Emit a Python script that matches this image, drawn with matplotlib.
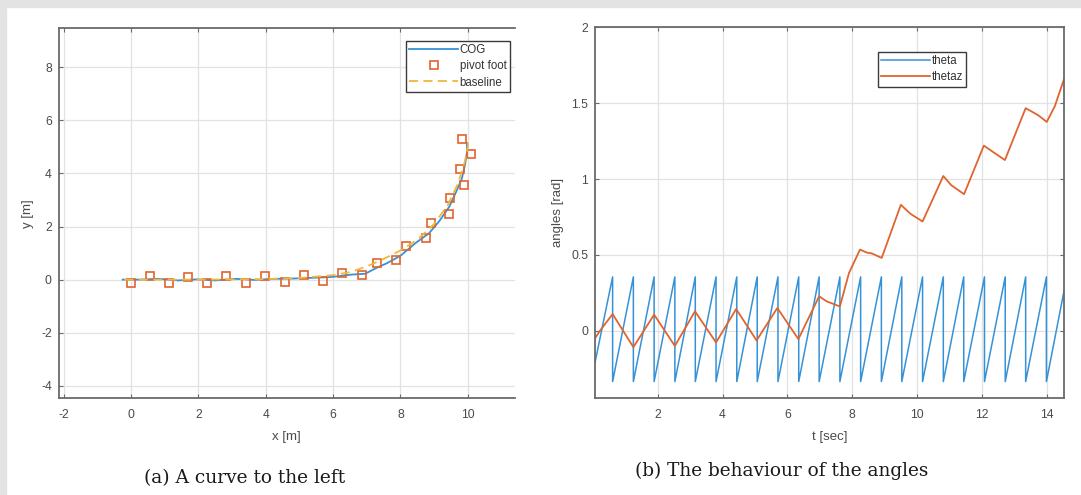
import numpy as np
import matplotlib
matplotlib.use('Agg')
from matplotlib import pyplot as plt
from matplotlib.patches import Rectangle

# (a) trajectory
pivot_x = [0.0, 0.56, 1.12, 1.70, 2.26, 2.83, 3.40, 3.99, 4.57, 5.13, 5.71, 6.27,
           6.87, 7.30, 7.88, 8.17, 8.77, 8.92, 9.43, 9.46, 9.90, 9.78, 10.08, 9.83]
pivot_y = [-0.14, 0.15, -0.14, 0.09, -0.14, 0.15, -0.14, 0.15, -0.09, 0.17, -0.04, 0.26,
           0.17, 0.62, 0.74, 1.27, 1.56, 2.12, 2.49, 3.09, 3.55, 4.15, 4.72, 5.30]
cog_x = [-0.25, 0.25, 0.8, 1.4, 1.95, 2.5, 3.1, 3.65, 4.25, 4.8, 5.4, 5.95, 6.55, 6.95,
         7.3, 7.6, 8.0, 8.45, 8.85, 9.15, 9.45, 9.65, 9.82, 9.92, 9.98, 9.97]
cog_y = [0.0, 0.0, 0.03, -0.03, 0.01, -0.03, 0.03, -0.01, 0.03, 0.04, 0.07, 0.1, 0.19, 0.22,
         0.45, 0.62, 0.9, 1.38, 1.75, 2.2, 2.75, 3.3, 3.8, 4.35, 4.85, 5.15]
base_x = [-0.2, 2.0, 4.0, 5.0, 6.0, 6.5, 7.0, 7.5, 8.0, 8.5, 9.0, 9.4, 9.7, 9.9, 10.0, 10.02]
base_y = [0.0, 0.0, 0.02, 0.06, 0.17, 0.28, 0.5, 0.78, 1.1, 1.5, 2.1, 2.8, 3.6, 4.4, 5.0, 5.3]

# (b) angles
theta_start = (0.066, -0.21)
theta_drop_t = [0.61, 1.25, 1.89, 2.53, 3.16, 3.80, 4.44, 5.07, 5.71, 6.35, 6.98,
                7.62, 8.26, 8.90, 9.53, 10.17, 10.81, 11.44, 12.08, 12.72, 13.35, 13.99]
theta_hi = 0.355
theta_lo = -0.335
theta_end = (14.54, 0.27)
thetaz_t = [0.066, 0.22, 0.61, 1.25, 1.89, 2.53, 3.15, 3.80, 4.42, 5.05, 5.69, 6.34, 6.98,
            7.21, 7.62, 7.9, 8.24, 8.45, 8.6, 8.91, 9.5, 9.8, 10.17, 10.81, 11.05, 11.45,
            12.06, 12.4, 12.71, 13.35, 13.74, 14.0, 14.25, 14.56]
thetaz_v = [-0.05, 0.0, 0.11, -0.108, 0.106, -0.10, 0.128, -0.077, 0.143, -0.064, 0.15, -0.055,
            0.227, 0.194, 0.16, 0.38, 0.535, 0.515, 0.51, 0.48, 0.83, 0.77, 0.72, 1.02, 0.96, 0.90,
            1.22, 1.17, 1.125, 1.467, 1.42, 1.376, 1.48, 1.676]

theta_t = [theta_start[0]] + list(np.repeat(theta_drop_t, 2)) + [theta_end[0]]
theta_v = [theta_start[1]] + [theta_hi, theta_lo] * len(theta_drop_t) + [theta_end[1]]

blue = '#3592d6'
orange = '#e0642f'
yellow = '#f0b83a'
tick_c = '#4a4a4a'
spine_c = '#6a6a6a'

plt.rcParams['font.family'] = ['Liberation Sans', 'DejaVu Sans']
plt.rcParams['axes.unicode_minus'] = False

fig = plt.figure(figsize=(10.81, 4.95), dpi=100, facecolor='white')
fig.patches.append(Rectangle((0, 1 - 7 / 495), 1, 7 / 495, transform=fig.transFigure,
                             color='#e3e3e3', zorder=0))
fig.patches.append(Rectangle((0, 0), 6 / 1081, 1, transform=fig.transFigure,
                             color='#e3e3e3', zorder=0))


def style(ax):
    ax.grid(True, color='#e2e2e2', linewidth=0.9)
    ax.set_axisbelow(True)
    ax.tick_params(direction='in', length=3, width=0.8, colors=spine_c,
                   labelcolor=tick_c, labelsize=8.7)
    ax.tick_params(axis='x', pad=8)
    ax.tick_params(axis='y', pad=5)
    for s in ax.spines.values():
        s.set_color(spine_c)
        s.set_linewidth(1.3)


def legend_at(ax, x, y):
    leg = ax.legend(loc='upper left', bbox_to_anchor=(x / 1081, 1 - y / 495),
                    bbox_transform=fig.transFigure, fontsize=8.3, handlelength=4.2,
                    handletextpad=0.15, borderpad=0.3, labelspacing=0.35,
                    fancybox=False, framealpha=1, borderaxespad=0)
    leg.get_frame().set_edgecolor('#3a3a3a')
    leg.get_frame().set_linewidth(1.0)
    for t in leg.get_texts():
        t.set_color('#333333')


# left
ax1 = fig.add_axes([0.0543, 0.1954, 0.4221, 0.7475])
ax1.plot(cog_x, cog_y, color=blue, lw=1.3, label='COG')
ax1.plot(pivot_x, pivot_y, 's', mfc='none', mec=orange, ms=5.5, mew=1.2, label='pivot foot')
ax1.plot(base_x, base_y, '--', color=yellow, lw=1.3, dashes=(5, 3), label='baseline')
ax1.set_xlim(-2.15, 11.4)
ax1.set_ylim(-4.47, 9.47)
ax1.set_xticks(range(-2, 11, 2))
ax1.set_yticks(range(-4, 9, 2))
style(ax1)
ax1.spines['right'].set_visible(False)
ax1.tick_params(top=True)
ax1.set_xlabel('x [m]', fontsize=9.5, color=tick_c, labelpad=7)
ax1.set_ylabel('y [m]', fontsize=9.5, color=tick_c, labelpad=5)
legend_at(ax1, 406, 41)

# right
ax2 = fig.add_axes([0.5504, 0.1954, 0.4341, 0.7495])
ax2.plot(theta_t, theta_v, color=blue, lw=1.1, label='theta')
ax2.plot(thetaz_t, thetaz_v, color=orange, lw=1.3, label='thetaz')
ax2.set_xlim(0.066, 14.54)
ax2.set_ylim(-0.445, 2)
ax2.set_xticks(range(2, 15, 2))
ax2.set_yticks([0, 0.5, 1, 1.5, 2])
ax2.set_yticklabels(['0', '0.5', '1', '1.5', '2'])
style(ax2)
ax2.tick_params(top=True, right=True)
ax2.set_xlabel('t [sec]', fontsize=9.5, color=tick_c, labelpad=7)
ax2.set_ylabel('angles [rad]', fontsize=9.5, color=tick_c, labelpad=5)
legend_at(ax2, 878, 52)

# captions
fig.text(245 / 1081, 1 - 478 / 495, '(a) A curve to the left', ha='center', va='center',
         fontsize=13.4, family='DejaVu Serif', color='#1a1a1a')
fig.text(782 / 1081, 1 - 471 / 495, '(b) The behaviour of the angles', ha='center',
         va='center', fontsize=13.3, family='DejaVu Serif', color='#1a1a1a')

fig.savefig('out.png', dpi=100, facecolor='white')
